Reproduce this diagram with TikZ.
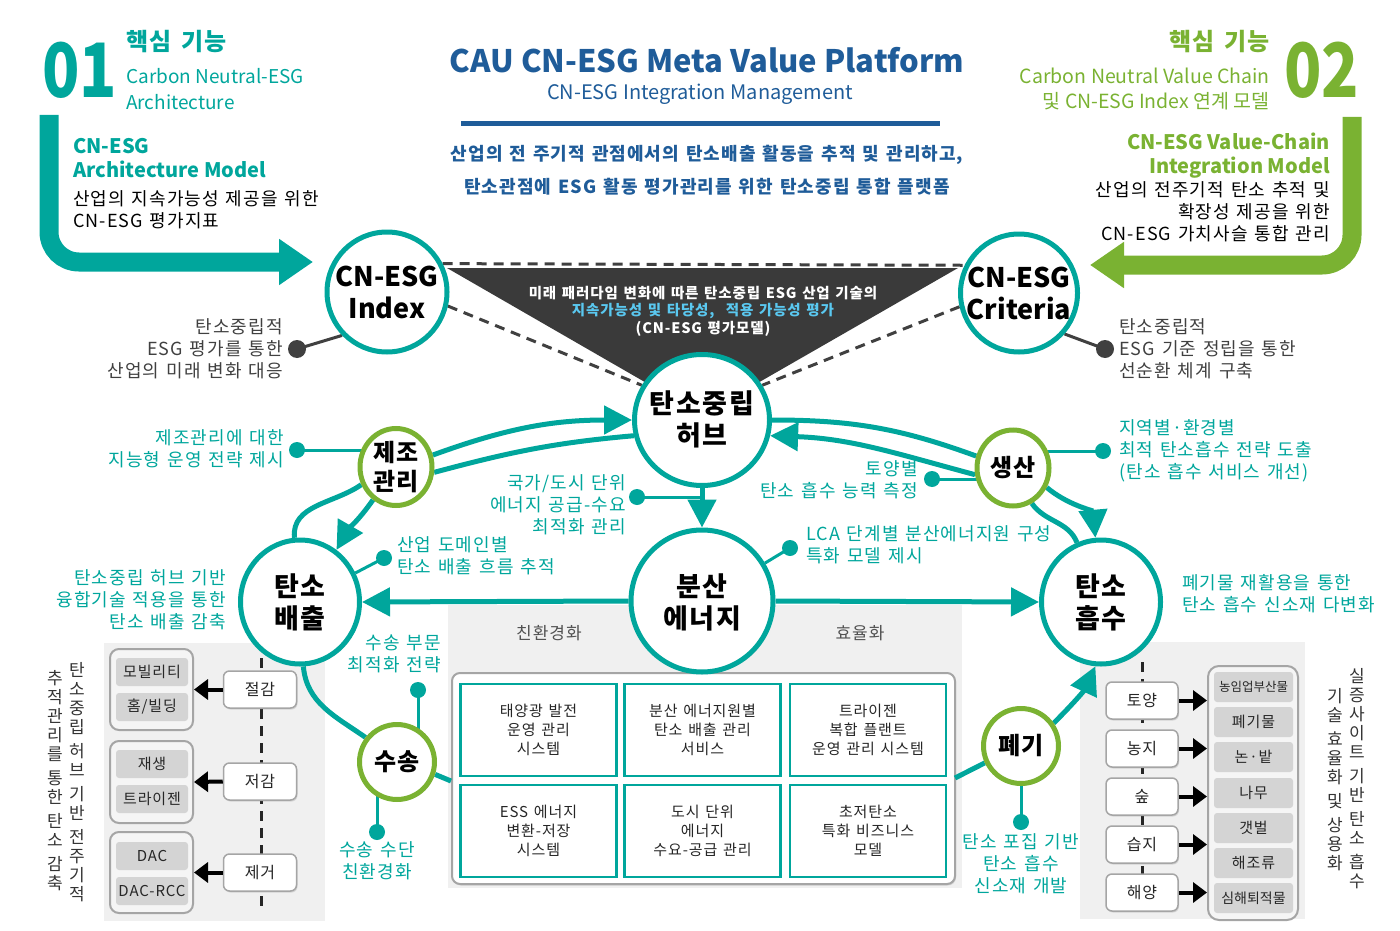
\documentclass[tikz,border=0pt]{standalone}
\usepackage{fontspec}
\usepackage{graphicx}
\setmainfont{Noto Sans CJK KR}
\newfontfamily\kr{Noto Sans CJK KR}[LetterSpace=6,WordSpace=1.35]
\usetikzlibrary{shapes.geometric,arrows.meta,shadows}
\definecolor{tl}{RGB}{0,166,156}
\definecolor{gn}{RGB}{122,178,50}
\definecolor{ttl}{RGB}{31,92,153}
\definecolor{dk}{RGB}{58,58,58}
\definecolor{pn}{RGB}{240,240,240}
\definecolor{chip}{RGB}{212,212,212}
\definecolor{cy}{RGB}{90,200,240}
\definecolor{gt}{RGB}{64,64,64}
\definecolor{bd}{RGB}{165,165,165}
\newcommand\fz[2]{\fontsize{#1}{#2}\selectfont}
\pgfdeclarelayer{back}
\pgfdeclarelayer{mid}
\pgfsetlayers{back,mid,main}
\begin{document}
\begin{tikzpicture}[x=1pt,y=1pt,
 shd/.style={drop shadow={shadow xshift=1.5pt,shadow yshift=-2pt,opacity=0.3}},
 bigc/.style={ellipse,draw=tl,line width=5pt,fill=white,inner sep=0pt,shd},
 smc/.style={ellipse,draw=gn,line width=5pt,fill=white,inner sep=0pt,shd},
 ctxt/.style={font=\fz{27}{32}\bfseries,align=center,inner sep=0pt,text=black},
 ctxtk/.style={font=\kr\fz{27}{32}\bfseries,align=center,inner sep=0pt,text=black},
 stxt/.style={font=\kr\fz{24}{29}\bfseries,align=center,inner sep=0pt,text=black},
 tline/.style={tl,line width=5pt},
 tarr/.style={-{Triangle[length=28pt,width=28pt]}},
 tdot/.style={circle,fill=tl,inner sep=0pt,minimum size=16pt},
 gdot/.style={circle,fill=gt,inner sep=0pt,minimum size=18pt},
 ann/.style={text=tl,font=\kr\fz{18}{22},inner sep=0pt},
 gann/.style={text=gt,font=\kr\fz{18}{22},inner sep=0pt},
 tbox/.style={draw=tl,line width=2.5pt,fill=white,minimum width=156pt,minimum height=92pt,align=center,font=\kr\fz{15}{19},text=black!85,inner sep=0pt},
 grp/.style={draw=bd,line width=2pt,rounded corners=9pt,fill=white!96!black,minimum width=83pt,inner sep=0pt},
 chp/.style={fill=chip,rounded corners=3pt,minimum width=72pt,minimum height=28pt,inner sep=0pt,font=\kr\fz{15}{18},text=black!85},
 wbox/.style={draw=bd,line width=1.5pt,rounded corners=6pt,fill=white,minimum width=73pt,minimum height=37pt,inner sep=0pt,font=\kr\fz{16}{18},text=black!85,drop shadow={shadow xshift=1pt,shadow yshift=-1.5pt,opacity=0.25}},
 blk/.style={line width=4pt,-{Triangle[length=14pt,width=20pt]}},
 vtxt/.style={font=\fz{17}{19},align=center,inner sep=0pt,text=black!80,anchor=north},
 dsh/.style={line width=3pt,dash pattern=on 10pt off 7pt},
]
\useasboundingbox (0,0) rectangle (1400,-931);

% ---------- panels (background)
\begin{pgfonlayer}{back}
\fill[pn] (104,-643) rectangle (325,-921);
\fill[pn] (448,-605) rectangle (962,-888);
\fill[pn] (1080,-642) rectangle (1305,-919);
\filldraw[draw=bd,line width=2pt,fill=white,rounded corners=8pt,drop shadow={shadow xshift=1pt,shadow yshift=-1.5pt,opacity=0.25}] (452,-673) rectangle (955,-884);
\end{pgfonlayer}

% ---------- header texts
\node[anchor=west,text=tl,font=\fz{75}{75}\bfseries,inner sep=0pt] (n01) at (42,-70) {\scalebox{0.82}[1]{01}};
\node[anchor=west,text=tl,font=\kr\fz{24}{26}\bfseries,inner sep=0pt] (k1) at (126,-42) {핵심 기능};
\node[anchor=west,text=tl,font=\fz{19}{26},align=left,inner sep=0pt] (c1) at (126,-89) {Carbon Neutral-ESG\\Architecture};
\node[anchor=west,text=tl,font=\fz{20}{24}\bfseries,align=left,inner sep=0pt] (m1) at (73,-158) {CN-ESG\\Architecture Model};
\node[anchor=west,text=black,font=\kr\fz{18}{22},align=left,inner sep=0pt] (s1) at (73,-210) {산업의 지속가능성 제공을 위한\\CN-ESG 평가지표};

\node[anchor=east,text=gn,font=\kr\fz{24}{26}\bfseries,inner sep=0pt] (k2) at (1270,-42) {핵심 기능};
\node[anchor=west,text=gn,font=\fz{75}{75}\bfseries,inner sep=0pt] (n02) at (1284,-70) {\scalebox{0.82}[1]{02}};
\node[anchor=east,text=gn,font=\fz{19.5}{25},align=right,inner sep=0pt] (c2) at (1270,-89) {Carbon Neutral Value Chain\\및 CN-ESG Index 연계 모델};
\node[anchor=east,text=gn,font=\fz{20}{24}\bfseries,align=right,inner sep=0pt] (m2) at (1330,-156) {CN-ESG Value-Chain\\Integration Model};
\node[anchor=east,text=black,font=\kr\fz{18}{22},align=right,inner sep=0pt] (s2) at (1330,-212) {산업의 전주기적 탄소 추적 및\\확장성 제공을 위한\\CN-ESG 가치사슬 통합 관리};

\node[text=ttl,font=\fz{31}{34}\bfseries,inner sep=0pt] (title) at (707,-60) {CAU CN-ESG Meta Value Platform};
\node[text=ttl,font=\fz{20}{24},inner sep=0pt] (sub) at (700,-94) {CN-ESG Integration Management};
\node[text=ttl,font=\kr\fz{18}{33}\bfseries,align=center,inner sep=0pt] (desc) at (707,-170) {산업의 전 주기적 관점에서의 탄소배출 활동을 추적 및 관리하고,\\탄소관점에 ESG 활동 평가관리를 위한 탄소중립 통합 플랫폼};

% ---------- circles
\node[bigc,minimum width=120pt,minimum height=120pt] (idx) at (387,-292) {};
\node[ctxt] (idxT) at (387,-292) {CN-ESG\\Index};
\node[bigc,minimum width=117pt,minimum height=118pt] (crt) at (1019,-293) {};
\node[ctxt] (crtT) at (1019,-293) {CN-ESG\\Criteria};
\node[bigc,minimum width=135pt,minimum height=131pt] (hub) at (702,-420) {};
\node[ctxtk] (hubT) at (702,-419) {탄소중립\\허브};
\node[bigc,minimum width=142pt,minimum height=142pt] (dist) at (702,-601) {};
\node[ctxtk] (distT) at (702,-602) {분산\\에너지};
\node[bigc,minimum width=119pt,minimum height=124pt] (emi) at (300,-602) {};
\node[ctxtk] (emiT) at (300,-602) {탄소\\배출};
\node[bigc,minimum width=119pt,minimum height=124pt] (absb) at (1101,-602) {};
\node[ctxtk] (absbT) at (1101,-602) {탄소\\흡수};
\node[smc,minimum width=72pt,minimum height=77pt] (mfg) at (396,-467) {};
\node[stxt] (mfgT) at (396,-467) {제조\\관리};
\node[smc,minimum width=72pt,minimum height=76pt] (prd) at (1013,-468) {};
\node[stxt] (prdT) at (1013,-468) {생산};
\node[smc,minimum width=75pt,minimum height=75pt] (trn) at (397,-762) {};
\node[stxt] (trnT) at (397,-762) {수송};
\node[smc,minimum width=75pt,minimum height=75pt] (wst) at (1021,-746) {};
\node[stxt] (wstT) at (1021,-746) {폐기};

% ---------- triangle text
\node[text=white,font=\kr\fz{14.5}{17.5}\bfseries,align=center,inner sep=0pt] (tri) at (703,-311) {미래 패러다임 변화에 따른 탄소중립 ESG 산업 기술의\\\textcolor{cy}{지속가능성 및 타당성,~ 적용 가능성 평가}\\(CN-ESG 평가모델)};

% ---------- dots
\node[gdot] (gd1) at (297,-349) {};
\node[gdot] (gd2) at (1105,-349) {};
\node[tdot] (d1) at (297,-450) {};
\node[tdot] (d2) at (637,-497) {};
\node[tdot] (d3) at (384,-558) {};
\node[tdot] (d4) at (932,-479) {};
\node[tdot] (d5) at (1103,-451) {};
\node[tdot] (d6) at (790,-548) {};
\node[tdot] (d7) at (418,-690) {};
\node[tdot] (d8) at (377,-832) {};
\node[tdot] (d9) at (1021,-822) {};

% ---------- annotation texts
\node[gann,anchor=east,align=right] (ga1) at (283,-349) {탄소중립적\\ESG 평가를 통한\\산업의 미래 변화 대응};
\node[gann,anchor=west,align=left] (ga2) at (1119,-349) {탄소중립적\\ESG 기준 정립을 통한\\선순환 체계 구축};
\node[ann,anchor=east,align=right] (a1) at (284,-449) {제조관리에 대한\\지능형 운영 전략 제시};
\node[ann,anchor=east,align=right] (a2) at (626,-505) {국가/도시 단위\\에너지 공급-수요\\최적화 관리};
\node[ann,anchor=west,align=left] (a3) at (397,-556) {산업 도메인별\\탄소 배출 흐름 추적};
\node[ann,anchor=east,align=right] (a4) at (226,-600) {탄소중립 허브 기반\\융합기술 적용을 통한\\탄소 배출 감축};
\node[ann,anchor=east,align=right] (a5) at (918,-480) {토양별\\탄소 흡수 능력 측정};
\node[ann,anchor=west,align=left] (a6) at (1119,-451) {지역별·환경별\\최적 탄소흡수 전략 도출\\(탄소 흡수 서비스 개선)};
\node[ann,anchor=west,align=left] (a7) at (806,-545) {LCA 단계별 분산에너지원 구성\\특화 모델 제시};
\node[ann,anchor=west,align=left] (a8) at (1182,-594) {폐기물 재활용을 통한\\탄소 흡수 신소재 다변화};
\node[ann,anchor=east,align=right] (a9) at (441,-654) {수송 부문\\최적화 전략};
\node[ann,align=center] (a10) at (377,-861) {수송 수단\\친환경화};
\node[ann,align=center] (a11) at (1021,-864) {탄소 포집 기반\\탄소 흡수\\신소재 개발};

% ---------- centre panel
\node[font=\kr\fz{17}{20},text=black!68,inner sep=0pt] (lb1) at (549,-633) {친환경화};
\node[font=\kr\fz{17}{20},text=black!68,inner sep=0pt] (lb2) at (860,-633) {효율화};
\node[tbox] (b11) at (538.5,-730) {태양광 발전\\운영 관리\\시스템};
\node[tbox] (b12) at (702.5,-730) {분산 에너지원별\\탄소 배출 관리\\서비스};
\node[tbox] (b13) at (868,-730) {트라이젠\\복합 플랜트\\운영 관리 시스템};
\node[tbox] (b21) at (538.5,-831) {ESS 에너지\\변환-저장\\시스템};
\node[tbox] (b22) at (702.5,-831) {도시 단위\\에너지\\수요-공급 관리};
\node[tbox] (b23) at (868,-831) {초저탄소\\특화 비즈니스\\모델};

% ---------- left panel
\node[grp,minimum height=81pt] (g1) at (151.5,-689.5) {};
\node[chp] (c11) at (152,-672) {모빌리티};
\node[chp] (c12) at (152,-707) {홈/빌딩};
\node[grp,minimum height=82pt] (g2) at (151.5,-782) {};
\node[chp] (c21) at (152,-764) {재생};
\node[chp] (c22) at (152,-799) {트라이젠};
\node[grp,minimum height=81pt] (g3) at (151.5,-872.5) {};
\node[chp] (c31) at (152,-856) {DAC};
\node[chp] (c32) at (152,-891) {DAC-RCC};
\node[wbox] (w1) at (260,-689.5) {절감};
\node[wbox] (w2) at (260,-781.5) {저감};
\node[wbox] (w3) at (260,-872.5) {제거};
\draw[blk] (w1.west) -- (g1.east);
\draw[blk] (w2.west) -- (g2.east);
\draw[blk] (w3.west) -- (g3.east);
\node[vtxt] (v1) at (77,-662) {탄\\소\\중\\립\\[5pt]허\\브\\[5pt]기\\반\\[5pt]전\\주\\기\\적};
\node[vtxt] (v2) at (55,-670) {추\\적\\관\\리\\를\\[5pt]통\\한\\[5pt]탄\\소\\[5pt]감\\축};

% ---------- right panel
\node[wbox,minimum width=72pt] (r1) at (1142,-700.5) {토양};
\node[wbox,minimum width=72pt] (r2) at (1142,-748.5) {농지};
\node[wbox,minimum width=72pt] (r3) at (1142,-796.5) {숲};
\node[wbox,minimum width=72pt] (r4) at (1142,-844.5) {습지};
\node[wbox,minimum width=72pt] (r5) at (1142,-892.5) {해양};
\node[grp,minimum width=90pt,minimum height=254pt,rounded corners=11pt] (rg) at (1253,-793) {};
\node[chp,minimum width=79pt,minimum height=30pt,font=\fz{12.5}{15}] (q1) at (1253.5,-687) {농임업부산물};
\node[chp,minimum width=79pt,minimum height=30pt] (q2) at (1253.5,-722) {폐기물};
\node[chp,minimum width=79pt,minimum height=30pt] (q3) at (1253.5,-757) {논·밭};
\node[chp,minimum width=79pt,minimum height=30pt] (q4) at (1253.5,-793) {나무};
\node[chp,minimum width=79pt,minimum height=30pt] (q5) at (1253.5,-828) {갯벌};
\node[chp,minimum width=79pt,minimum height=30pt] (q6) at (1253.5,-863) {해조류};
\node[chp,minimum width=79pt,minimum height=30pt,font=\fz{14}{16}] (q7) at (1253.5,-898) {심해퇴적물};
\draw[blk] (r1.east) -- (r1.east -| rg.west);
\draw[blk] (r2.east) -- (r2.east -| rg.west);
\draw[blk] (r3.east) -- (r3.east -| rg.west);
\draw[blk] (r4.east) -- (r4.east -| rg.west);
\draw[blk] (r5.east) -- (r5.east -| rg.west);
\node[vtxt] (v3) at (1357,-668) {실\\증\\사\\이\\트\\[5pt]기\\반\\[5pt]탄\\소\\[5pt]흡\\수};
\node[vtxt] (v4) at (1335,-688) {기\\술\\[5pt]효\\율\\화\\[5pt]및\\[5pt]상\\용\\화};

% ---------- coordinates
\coordinate (ar1) at (313,-262);
\coordinate (ar2) at (1090,-265);
\coordinate (pl) at (451,-781);
\coordinate (pr) at (955,-778);

% ---------- connectors
\begin{pgfonlayer}{mid}
\fill[dk] (447,-268) -- (958,-268) -- (702,-415) -- cycle;
\draw[gt,dsh] (idx.27) -- (crt.153);
\draw[gt,dsh] (idx.-13) -- (hub.150);
\draw[gt,dsh] (crt.193) -- (hub.30);
\draw[tl,line width=19pt,rounded corners=30pt,-{Triangle[length=34pt,width=44pt]}] (49,-115) |- (ar1);
\draw[gn,line width=19pt,rounded corners=30pt,-{Triangle[length=34pt,width=44pt]}] (1352,-117) |- (ar2);
\draw[gt,line width=3pt] (gd1.center) -- (idx.224);
\draw[gt,line width=3pt] (gd2.center) -- (crt.-42);
% loops
\draw[tline,tarr] (mfg.18) to[out=20,in=180] (hub.180);
\draw[tline] (hub.193) to[out=185,in=15] (mfg.-8);
\draw[tline] (emi.95) to[out=95,in=215] (mfg.207);
\draw[tline,tarr] (mfg.235) to[out=235,in=60] (emi.55);
\draw[tline] (hub.0) to[out=0,in=160] (prd.162);
\draw[tline,tarr] (prd.190) to[out=165,in=-2] (hub.-13);
\draw[tline,tarr] (prd.-30) to[out=-40,in=95] (absb.95);
\draw[tline] (absb.112) to[out=112,in=-55] (prd.-62);
\draw[tline,tarr] (hub.south) -- (dist.north);
\draw[tline,tarr] (dist.west) -- (emi.east);
\draw[tline,tarr] (dist.east) -- (absb.west);
\draw[tline] (emi.-87) to[out=-85,in=145] (trn.142);
\draw[tline] (trn.-18) -- (pl);
\draw[tline] (pr) -- (wst.205);
\draw[tline,tarr] (wst.35) to[out=45,in=245] (absb.265);
% annotation lines
\draw[tl,line width=3pt] (d1.center) -- (d1.center -| mfg.center);
\draw[tl,line width=3pt] (d2.center) -- (d2.center -| hub.center);
\draw[tl,line width=3pt] (d3.center) -- (emi);
\draw[tl,line width=3pt] (d4.center) -- (d4.center -| prd.center);
\draw[tl,line width=3pt] (d5.center) -- (d5.center -| prd.center);
\draw[tl,line width=3pt] (d6.center) -- (dist);
\draw[tl,line width=3pt] (d7.center) -- (d7.center |- trn.center);
\draw[tl,line width=3pt] (d8.center) -- (d8.center |- trn.center);
\draw[tl,line width=3pt] (d9.center) -- (d9.center |- wst.center);
% title rule and panel dashed lines
\draw[ttl,line width=5pt] (461,-124) -- (940,-124);
\draw[black!85,dsh] (261,-658) -- (261,-912);
\draw[black!85,dsh] (1142,-662) -- (1142,-905);
\end{pgfonlayer}
\end{tikzpicture}
\end{document}
